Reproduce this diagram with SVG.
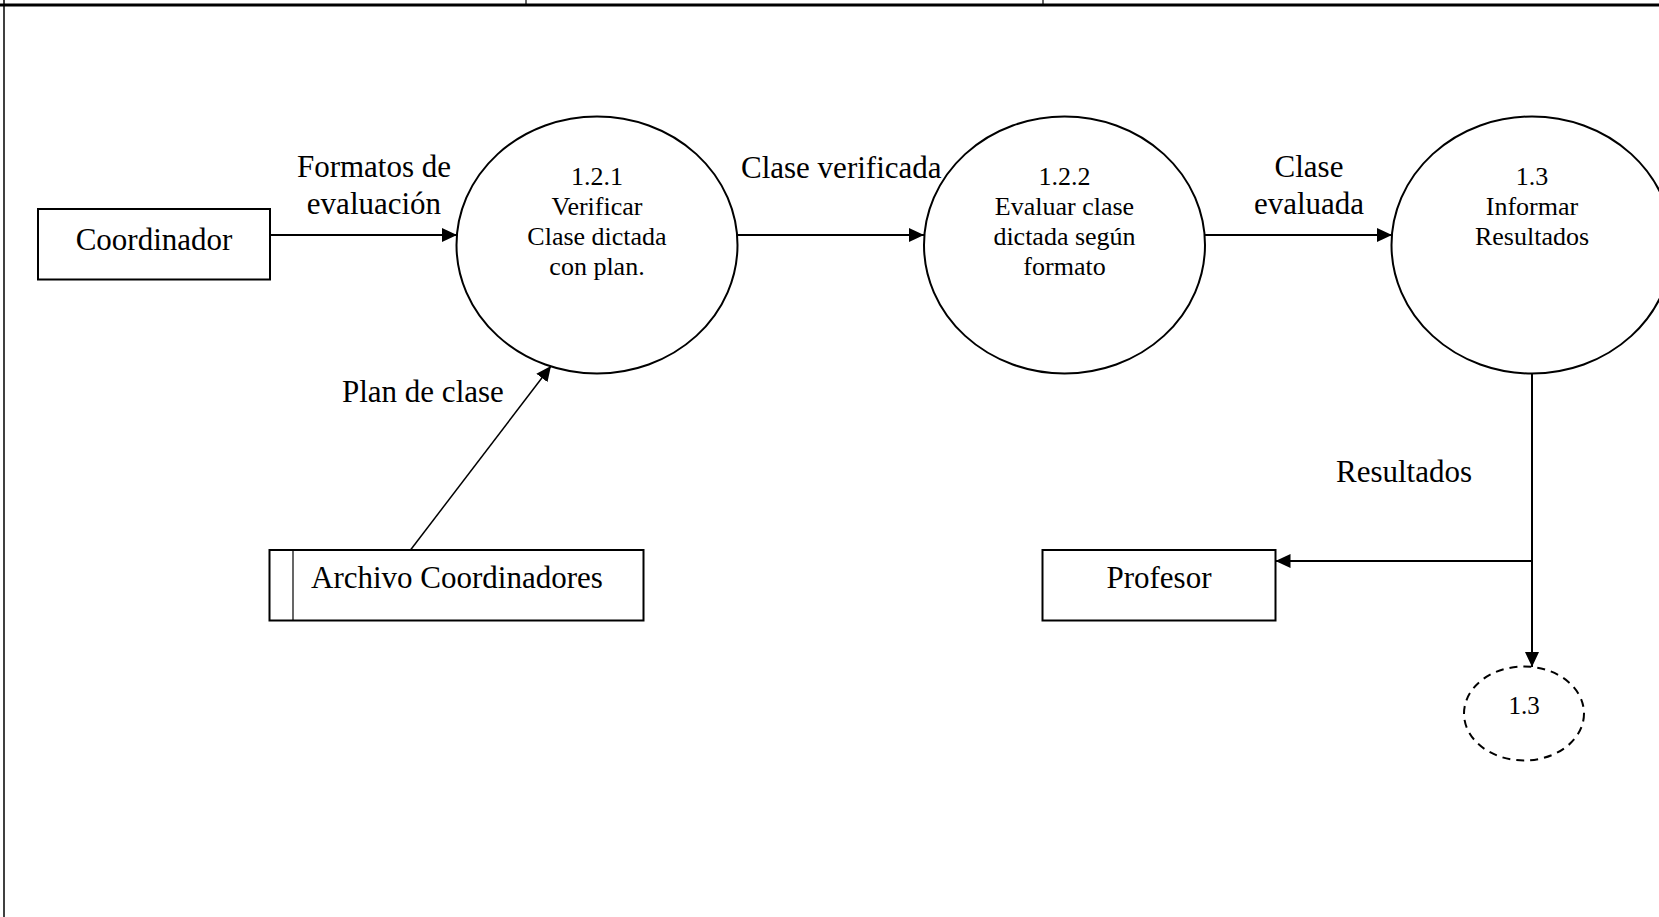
<svg xmlns="http://www.w3.org/2000/svg" width="1659" height="917" viewBox="0 0 1659 917">
<style>
text{font-family:"Liberation Serif","Times New Roman",serif;fill:#000}
.lbl{font-size:31px}
.inner{font-size:26px;text-anchor:middle}
.mid{text-anchor:middle}
.shape{fill:#fff;stroke:#000;stroke-width:2}
.flow{fill:none;stroke:#000;stroke-width:2}
.thin{fill:none;stroke:#000;stroke-width:1.5}
.dash{fill:#fff;stroke:#000;stroke-width:2;stroke-dasharray:8 6}
</style>
<defs>
<marker id="arrow" markerUnits="userSpaceOnUse" markerWidth="15" markerHeight="14" refX="15" refY="7" orient="auto">
<path d="M0,0 L15,7 L0,14 z" fill="#000"/>
</marker>
</defs>
<rect width="1659" height="917" fill="#fff"/>
<g id="frame">
<line x1="0" y1="5" x2="1659" y2="5" stroke="#000" stroke-width="3"/>
<line x1="4" y1="0" x2="4" y2="917" stroke="#000" stroke-width="1.5"/>
<line x1="526" y1="0" x2="526" y2="5" stroke="#000" stroke-width="1.2"/>
<line x1="1043" y1="0" x2="1043" y2="5" stroke="#000" stroke-width="1.2"/>
</g>
<g id="connectors">
<line class="flow" x1="270" y1="235" x2="457" y2="235" marker-end="url(#arrow)"/>
<line class="flow" x1="737" y1="235" x2="924" y2="235" marker-end="url(#arrow)"/>
<line class="flow" x1="1205" y1="235" x2="1392" y2="235" marker-end="url(#arrow)"/>
<line class="thin" x1="410.5" y1="550" x2="551" y2="366" marker-end="url(#arrow)"/>
<line class="flow" x1="1532" y1="373.5" x2="1532" y2="667" marker-end="url(#arrow)"/>
<line class="flow" x1="1532" y1="561" x2="1275.5" y2="561" marker-end="url(#arrow)"/>
<text class="lbl mid" x="374" y="177">Formatos de</text>
<text class="lbl mid" x="374" y="214">evaluación</text>
<text class="lbl" x="741" y="178">Clase verificada</text>
<text class="lbl mid" x="1309" y="177">Clase</text>
<text class="lbl mid" x="1309" y="214">evaluada</text>
<text class="lbl" x="342" y="402">Plan de clase</text>
<text class="lbl" x="1336" y="482">Resultados</text>
</g>
<g id="coordinador">
<rect class="shape" x="38" y="209" width="232" height="70.5"/>
<text class="lbl mid" x="154" y="250">Coordinador</text>
</g>
<g id="p121">
<ellipse class="shape" cx="597" cy="245" rx="140.5" ry="128.5"/>
<text class="inner" x="597" y="185">1.2.1</text>
<text class="inner" x="597" y="215">Verificar</text>
<text class="inner" x="597" y="245">Clase dictada</text>
<text class="inner" x="597" y="275">con plan.</text>
</g>
<g id="p122">
<ellipse class="shape" cx="1064.5" cy="245" rx="140.5" ry="128.5"/>
<text class="inner" x="1064.5" y="185">1.2.2</text>
<text class="inner" x="1064.5" y="215">Evaluar clase</text>
<text class="inner" x="1064.5" y="245">dictada según</text>
<text class="inner" x="1064.5" y="275">formato</text>
</g>
<g id="p13">
<ellipse class="shape" cx="1532" cy="245" rx="140.5" ry="128.5"/>
<text class="inner" x="1532" y="185">1.3</text>
<text class="inner" x="1532" y="215">Informar</text>
<text class="inner" x="1532" y="245">Resultados</text>
</g>
<g id="archivo">
<rect class="shape" x="269.5" y="550" width="374" height="70.5"/>
<line x1="293" y1="550" x2="293" y2="620.5" stroke="#000" stroke-width="1.2"/>
<text class="lbl" x="311" y="588">Archivo Coordinadores</text>
</g>
<g id="profesor">
<rect class="shape" x="1042.5" y="550" width="233" height="70.5"/>
<text class="lbl mid" x="1159" y="588">Profesor</text>
</g>
<g id="ref13">
<ellipse class="dash" cx="1524" cy="713.5" rx="60" ry="47"/>
<text class="mid" x="1524" y="714" font-size="25">1.3</text>
</g>
</svg>
